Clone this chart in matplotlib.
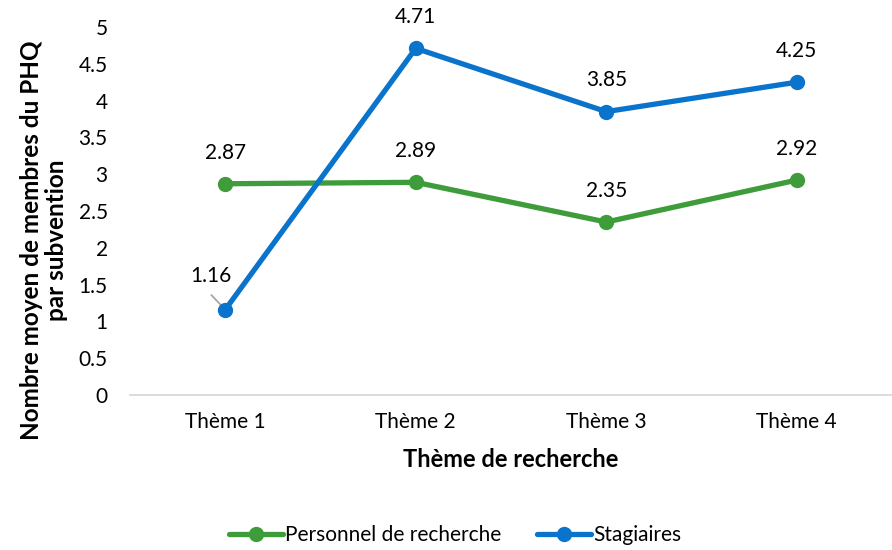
import matplotlib.pyplot as plt
import numpy as np

plt.rcParams['font.family'] = ['Lato', 'DejaVu Sans']

themes = ['Thème 1', 'Thème 2', 'Thème 3', 'Thème 4']
personnel = [2.87, 2.89, 2.35, 2.92]
stagiaires = [1.16, 4.71, 3.85, 4.25]
yticks = [0, 0.5, 1, 1.5, 2, 2.5, 3, 3.5, 4, 4.5, 5]

green = '#3E9C3A'
blue = '#0A74CC'
fs = 15

fig = plt.figure(figsize=(8.92, 5.5), dpi=100)
ax = fig.add_axes([130 / 892, 155 / 550, 1 - 130 / 892, 368 / 550])

x = np.arange(len(themes))
ax.plot(x, personnel, color=green, lw=3.8, marker='o', ms=10,
        solid_capstyle='round', label='Personnel de recherche', zorder=3)
ax.plot(x, stagiaires, color=blue, lw=3.8, marker='o', ms=10,
        solid_capstyle='round', label='Stagiaires', zorder=3)

# etiquettes de donnees
for i in range(len(x)):
    ax.annotate(f'{personnel[i]:.2f}', (x[i], personnel[i]), xytext=(0, 22.5),
                textcoords='offset points', ha='center', va='center', fontsize=fs)
    if i == 0:
        ax.annotate(f'{stagiaires[i]:.2f}', (x[i], stagiaires[i]), xytext=(-10, 24),
                    textcoords='offset points', ha='center', va='center', fontsize=fs)
        # trait de rappel
        ax.annotate('', (x[i], stagiaires[i]), xytext=(-10, 10.5),
                    textcoords='offset points', zorder=2,
                    arrowprops=dict(arrowstyle='-', color='#A6A6A6', lw=1.3,
                                    shrinkA=0, shrinkB=0))
    else:
        ax.annotate(f'{stagiaires[i]:.2f}', (x[i], stagiaires[i]), xytext=(0, 22.5),
                    textcoords='offset points', ha='center', va='center', fontsize=fs)

ax.set_xlim(-0.5, 3.5)
ax.set_ylim(0, 5)
ax.set_xticks(x)
ax.set_xticklabels(themes, fontsize=fs)
ax.set_yticks(yticks)
ax.set_yticklabels([f'{v:g}' for v in yticks], fontsize=fs)
ax.tick_params(length=0, pad=16)
ax.tick_params(axis='x', pad=12)

for s in ['top', 'right', 'left']:
    ax.spines[s].set_visible(False)
ax.spines['bottom'].set_color('#D9D9D9')
ax.spines['bottom'].set_linewidth(1.3)

ax.set_xlabel('Thème de recherche', fontsize=17, fontweight='bold', labelpad=12)
ax.set_ylabel('Nombre moyen de membres du PHQ\npar subvention', fontsize=17.5,
              fontweight='bold', linespacing=1.1)
ax.yaxis.set_label_coords(-0.081, 0.421)

fig.legend(loc='center', bbox_to_anchor=(0.51, 15 / 550), ncol=2, frameon=False,
           fontsize=fs, handlelength=2.6, handletextpad=0.1, columnspacing=1.7,
           bbox_transform=fig.transFigure)

fig.savefig('out.png', dpi=100)
